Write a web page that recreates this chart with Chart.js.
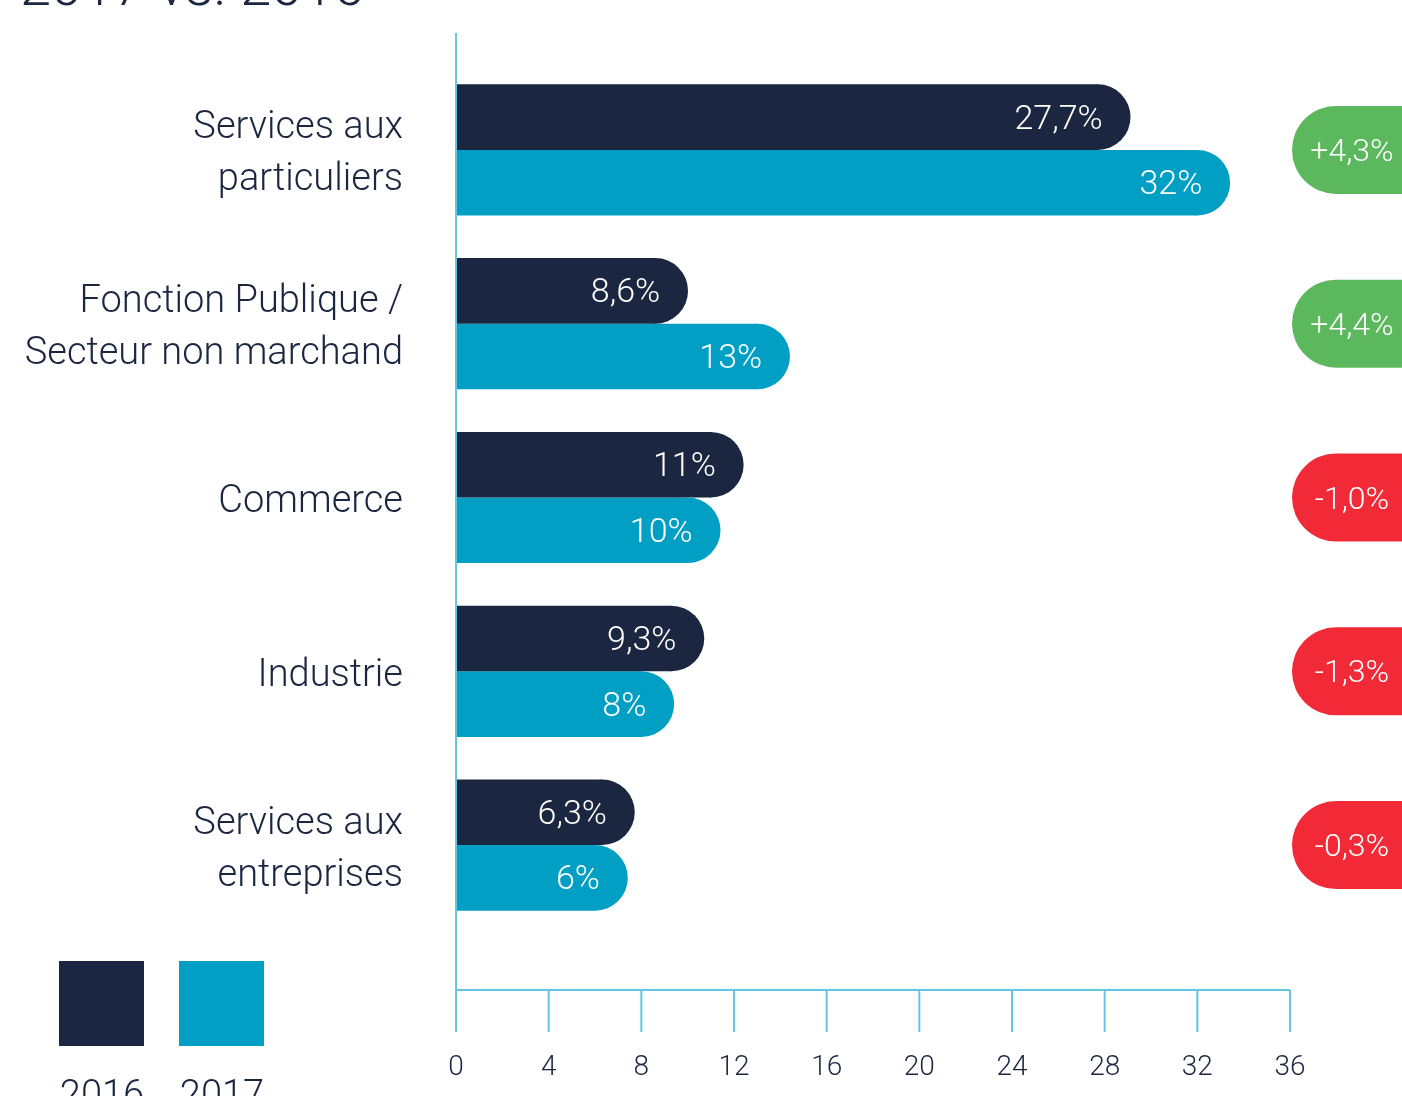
<!DOCTYPE html>
<html>
<head>
<meta charset="utf-8">
<script src="https://cdn.jsdelivr.net/npm/chart.js@4.4.1/dist/chart.umd.min.js"></script>
<style>
    html, body { margin: 0; padding: 0; background: #fff; overflow: hidden; }
    #wrap { position: relative; width: 1402px; height: 1096px; }
</style>
</head>
<body>
<div id="wrap"><canvas id="chart"></canvas></div>
<script>
// Chart data
const TITLE = '2017 vs. 2016';
const categories = [
    ['Services aux', 'particuliers'],
    ['Fonction Publique /', 'Secteur non marchand'],
    ['Commerce'],
    ['Industrie'],
    ['Services aux', 'entreprises']
];
const seriesLabels = ['2016', '2017'];
const values2016 = [27.7, 8.6, 11, 9.3, 6.3];
const values2017 = [32, 13, 10, 8, 6];
const changes = [4.3, 4.4, -1.0, -1.3, -0.3];   // evolution badges, in points
const xMin = 0, xMax = 36, xStep = 4;

const NAVY = '#1b2641';
const CYAN = '#019fc4';
const AXIS = '#62c6e1';
const GREEN = '#5cb85d';
const RED = '#f22a38';
const FONT = 'Roboto';

const fmtValue = v => String(v).replace('.', ',') + '%';
const fmtChange = c => (c >= 0 ? '+' : '-') + Math.abs(c).toFixed(1).replace('.', ',') + '%';

// Rounded bar ends, in-bar values, custom axis, badges, title and legend
const decorPlugin = {
    id: 'decor',
    afterDatasetsDraw(chart) {
        const ctx = chart.ctx;
        const xs = chart.scales.x;
        const ys = chart.scales.y;
        const area = chart.chartArea;
        ctx.save();

        chart.data.datasets.forEach((ds, di) => {
            chart.getDatasetMeta(di).data.forEach((bar, i) => {
                const r = bar.height / 2;
                ctx.fillStyle = ds.backgroundColor;
                ctx.beginPath();
                ctx.moveTo(bar.x - 1, bar.y - r);
                ctx.lineTo(bar.x, bar.y - r);
                ctx.arc(bar.x, bar.y, r, -Math.PI / 2, Math.PI / 2);
                ctx.lineTo(bar.x - 1, bar.y + r);
                ctx.closePath();
                ctx.fill();

                ctx.fillStyle = '#fff';
                ctx.font = `300 34px ${FONT}`;
                ctx.textAlign = 'right';
                ctx.textBaseline = 'middle';
                ctx.fillText(fmtValue(ds.data[i]), bar.x + 5, bar.y + 3);
            });
        });

        // axis: zero line, baseline and long tick marks
        const axisY = area.bottom + 58;
        const x0 = xs.getPixelForValue(xMin);
        ctx.strokeStyle = AXIS;
        ctx.lineWidth = 2;
        ctx.beginPath();
        ctx.moveTo(x0, area.top - 30);
        ctx.lineTo(x0, axisY + 42);
        ctx.moveTo(x0, axisY);
        ctx.lineTo(xs.getPixelForValue(xMax), axisY);
        xs.ticks.forEach(t => {
            const px = xs.getPixelForValue(t.value);
            ctx.moveTo(px, axisY);
            ctx.lineTo(px, axisY + 42);
        });
        ctx.stroke();

        // change badges on the right
        changes.forEach((c, i) => {
            const cy = ys.getPixelForValue(i);
            const left = xs.right + 2;
            ctx.fillStyle = c >= 0 ? GREEN : RED;
            ctx.beginPath();
            ctx.roundRect(left, cy - 44, 160, 88, 44);
            ctx.fill();
            ctx.fillStyle = '#fff';
            ctx.font = `300 32px ${FONT}`;
            ctx.textAlign = 'center';
            ctx.textBaseline = 'middle';
            ctx.fillText(fmtChange(c), left + 60, cy + 3);
        });

        ctx.restore();
    },
    afterDraw(chart) {
        const ctx = chart.ctx;
        ctx.save();
        ctx.fillStyle = NAVY;
        ctx.font = `300 56px ${FONT}`;
        ctx.textAlign = 'left';
        ctx.textBaseline = 'alphabetic';
        ctx.fillText(TITLE, 20, 5);

        chart.data.datasets.forEach((ds, i) => {
            const lx = 59 + i * 120;
            ctx.fillStyle = ds.backgroundColor;
            ctx.fillRect(lx, 961, 85, 85);
            ctx.fillStyle = NAVY;
            ctx.font = `300 38px ${FONT}`;
            ctx.textAlign = 'center';
            ctx.fillText(ds.label, lx + 43, 1107);
        });
        ctx.restore();
    }
};

new Chart(document.getElementById('chart'), {
    type: 'bar',
    data: {
        labels: categories,
        datasets: [
            { label: seriesLabels[0], data: values2016, backgroundColor: NAVY },
            { label: seriesLabels[1], data: values2017, backgroundColor: CYAN }
        ]
    },
    options: {
        indexAxis: 'y',
        responsive: true,
        maintainAspectRatio: false,
        animation: false,
        layout: { padding: { top: 63, right: 112, left: 0, bottom: 0 } },
        datasets: { bar: { barPercentage: 1, categoryPercentage: 0.755, borderWidth: 0 } },
        plugins: { legend: { display: false }, tooltip: { enabled: false } },
        scales: {
            x: {
                min: xMin,
                max: xMax,
                grid: { display: false, drawTicks: false },
                border: { display: false },
                ticks: {
                    stepSize: xStep,
                    color: NAVY,
                    padding: 119,
                    font: { family: FONT, size: 28, weight: 300 }
                },
                afterFit(s) {
                    s.height = 164;
                    s.paddingLeft = 0;
                    s.paddingRight = 0;
                }
            },
            y: {
                grid: { display: false, drawTicks: false },
                border: { display: false },
                ticks: {
                    color: NAVY,
                    padding: 53,
                    labelOffset: 5,
                    font: { family: FONT, size: 38, weight: 300, lineHeight: 1.37 }
                },
                afterFit(s) {
                    s.width = 456;
                    s.paddingTop = 0;
                    s.paddingBottom = 0;
                }
            }
        }
    },
    plugins: [decorPlugin]
});
</script>
</body>
</html>
